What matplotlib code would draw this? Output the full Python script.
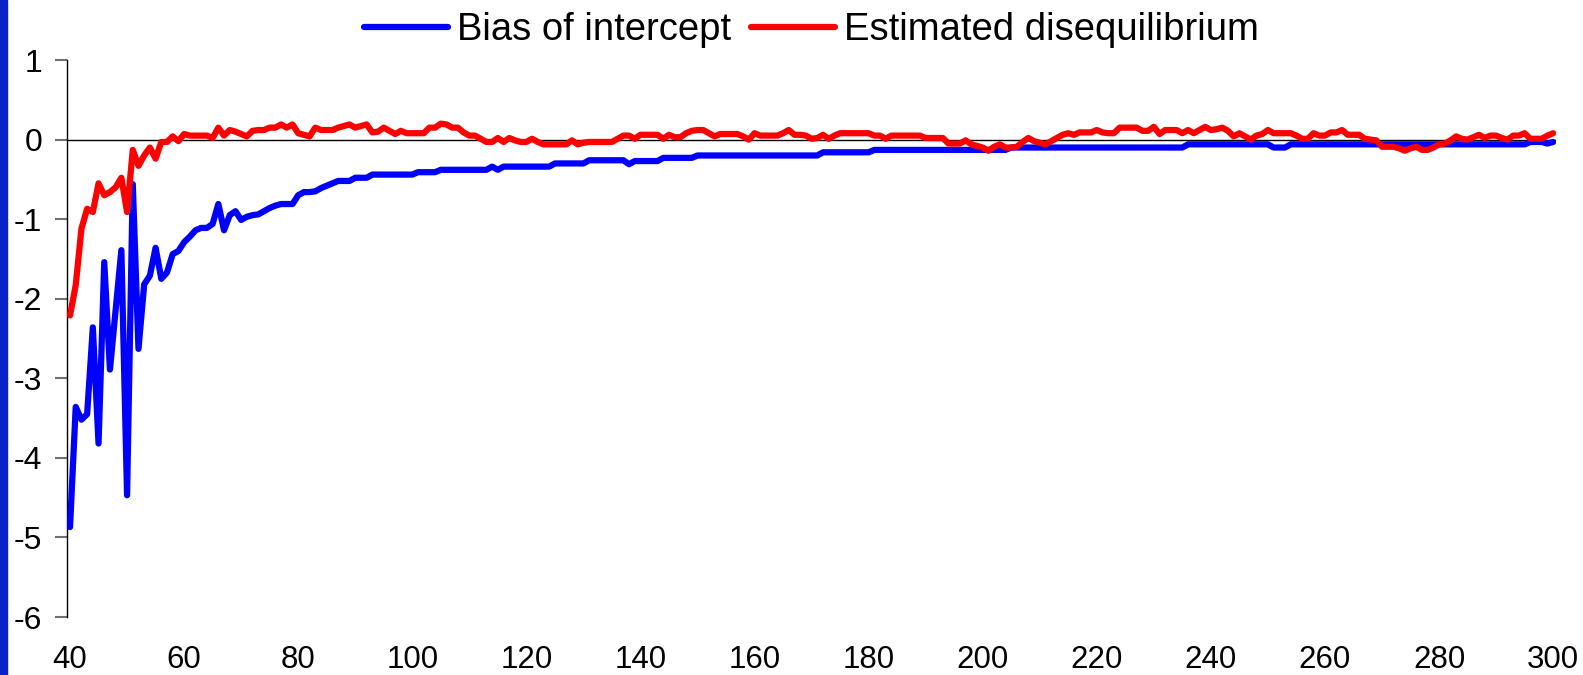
import numpy as np
import matplotlib
matplotlib.use("Agg")
from matplotlib import pyplot as plt
from matplotlib.patches import Rectangle

plt.rcParams['font.family'] = ['Liberation Sans', 'DejaVu Sans']
plt.rcParams['axes.unicode_minus'] = False

# sample sizes 40..300
sample_size = list(range(40, 301))

bias_intercept = [
    -4.87, -3.36, -3.52, -3.45, -2.36, -3.82, -1.54, -2.89, -2.14, -1.39,
    -4.47, -0.56, -2.63, -1.82, -1.71, -1.36, -1.75, -1.67, -1.44, -1.40,
    -1.29, -1.22, -1.14, -1.11, -1.11, -1.06, -0.81, -1.14, -0.95, -0.90,
    -1.01, -0.97, -0.95, -0.94, -0.90, -0.86, -0.83, -0.81, -0.81, -0.81,
    -0.70, -0.66, -0.66, -0.65, -0.61, -0.58, -0.55, -0.52, -0.52, -0.52,
    -0.48, -0.48, -0.48, -0.44, -0.44, -0.44, -0.44, -0.44, -0.44, -0.44,
    -0.44, -0.41, -0.41, -0.41, -0.41, -0.38, -0.38, -0.38, -0.38, -0.38,
    -0.38, -0.38, -0.38, -0.38, -0.34, -0.38, -0.34, -0.34, -0.34, -0.34,
    -0.34, -0.34, -0.34, -0.34, -0.34, -0.30, -0.30, -0.30, -0.30, -0.30,
    -0.30, -0.26, -0.26, -0.26, -0.26, -0.26, -0.26, -0.26, -0.31, -0.27,
    -0.27, -0.27, -0.27, -0.27, -0.23, -0.23, -0.23, -0.23, -0.23, -0.23,
    -0.20, -0.20, -0.20, -0.20, -0.20, -0.20, -0.20, -0.20, -0.20, -0.20,
    -0.20, -0.20, -0.20, -0.20, -0.20, -0.20, -0.20, -0.20, -0.20, -0.20,
    -0.20, -0.20, -0.16, -0.16, -0.16, -0.16, -0.16, -0.16, -0.16, -0.16,
    -0.16, -0.13, -0.13, -0.13, -0.13, -0.13, -0.13, -0.13, -0.13, -0.13,
    -0.13, -0.13, -0.13, -0.13, -0.13, -0.13, -0.13, -0.13, -0.13, -0.13,
    -0.13, -0.13, -0.13, -0.13, -0.13, -0.10, -0.10, -0.10, -0.10, -0.10,
    -0.10, -0.10, -0.10, -0.10, -0.10, -0.10, -0.10, -0.10, -0.10, -0.10,
    -0.10, -0.10, -0.10, -0.10, -0.10, -0.10, -0.10, -0.10, -0.10, -0.10,
    -0.10, -0.10, -0.10, -0.10, -0.10, -0.10, -0.06, -0.06, -0.06, -0.06,
    -0.06, -0.06, -0.06, -0.06, -0.06, -0.06, -0.06, -0.06, -0.06, -0.06,
    -0.06, -0.10, -0.10, -0.10, -0.06, -0.06, -0.06, -0.06, -0.06, -0.06,
    -0.06, -0.06, -0.06, -0.06, -0.06, -0.06, -0.06, -0.06, -0.06, -0.06,
    -0.06, -0.06, -0.06, -0.06, -0.06, -0.06, -0.06, -0.06, -0.06, -0.06,
    -0.06, -0.06, -0.06, -0.06, -0.06, -0.06, -0.06, -0.06, -0.06, -0.06,
    -0.06, -0.06, -0.06, -0.06, -0.06, -0.06, -0.03, -0.03, -0.03, -0.05,
    -0.03,
]

est_diseq = [
    -2.21, -1.83, -1.12, -0.87, -0.91, -0.55, -0.70, -0.66, -0.60, -0.48,
    -0.91, -0.13, -0.33, -0.20, -0.10, -0.24, -0.03, -0.03, 0.04, -0.02,
    0.07, 0.05, 0.05, 0.05, 0.05, 0.02, 0.15, 0.05, 0.12, 0.10,
    0.07, 0.04, 0.11, 0.12, 0.12, 0.15, 0.15, 0.19, 0.15, 0.19,
    0.08, 0.06, 0.04, 0.15, 0.12, 0.12, 0.12, 0.15, 0.17, 0.19,
    0.15, 0.17, 0.19, 0.09, 0.10, 0.15, 0.11, 0.07, 0.11, 0.08,
    0.08, 0.08, 0.08, 0.15, 0.15, 0.20, 0.19, 0.15, 0.15, 0.09,
    0.05, 0.05, 0.01, -0.03, -0.03, 0.02, -0.03, 0.02, -0.01, -0.03,
    -0.03, 0.01, -0.03, -0.06, -0.06, -0.06, -0.06, -0.06, -0.01, -0.06,
    -0.04, -0.03, -0.03, -0.03, -0.03, -0.03, 0.01, 0.05, 0.05, 0.01,
    0.06, 0.06, 0.06, 0.06, 0.01, 0.06, 0.03, 0.03, 0.08, 0.11,
    0.12, 0.12, 0.08, 0.04, 0.07, 0.07, 0.07, 0.07, 0.04, 0.00,
    0.08, 0.05, 0.05, 0.05, 0.05, 0.08, 0.12, 0.06, 0.06, 0.05,
    0.01, 0.02, 0.06, 0.01, 0.05, 0.08, 0.08, 0.08, 0.08, 0.08,
    0.08, 0.05, 0.05, 0.01, 0.05, 0.05, 0.05, 0.05, 0.05, 0.05,
    0.02, 0.02, 0.02, 0.02, -0.05, -0.05, -0.05, -0.01, -0.06, -0.08,
    -0.10, -0.14, -0.09, -0.06, -0.10, -0.10, -0.09, -0.03, 0.02, -0.02,
    -0.04, -0.06, -0.02, 0.02, 0.06, 0.08, 0.06, 0.09, 0.09, 0.09,
    0.12, 0.09, 0.08, 0.08, 0.15, 0.15, 0.15, 0.15, 0.11, 0.11,
    0.16, 0.07, 0.12, 0.12, 0.12, 0.08, 0.12, 0.08, 0.12, 0.16,
    0.12, 0.13, 0.15, 0.11, 0.04, 0.08, 0.04, 0.00, 0.05, 0.07,
    0.12, 0.08, 0.08, 0.08, 0.08, 0.05, 0.01, 0.01, 0.08, 0.05,
    0.05, 0.09, 0.09, 0.12, 0.06, 0.06, 0.06, 0.01, 0.00, -0.01,
    -0.09, -0.09, -0.09, -0.11, -0.14, -0.11, -0.09, -0.13, -0.13, -0.10,
    -0.06, -0.05, -0.01, 0.04, 0.01, 0.00, 0.03, 0.06, 0.02, 0.05,
    0.05, 0.02, 0.00, 0.05, 0.05, 0.08, 0.01, 0.01, 0.01, 0.05,
    0.08,
]

x_ticks = list(range(40, 301, 20))
y_ticks = list(range(-6, 2))

W, H = 1583, 675
fig = plt.figure(figsize=(W / 100, H / 100), dpi=100)
fig.patch.set_facecolor('white')

# blue strip on the left edge
fig.patches.append(Rectangle((0, 0), 7 / W, 1, transform=fig.transFigure,
                             color='#0a22c6', zorder=0))

left, right = 67 / W, 1556 / W
bottom, top = (H - 617) / H, (H - 60) / H
ax = fig.add_axes([left, bottom, right - left, top - bottom])

ax.axhline(0, color='black', lw=1, zorder=1)
ax.plot(sample_size, bias_intercept, color='#0000ff', lw=4.5,
        solid_joinstyle='round', solid_capstyle='round', zorder=3,
        label='Bias of intercept')
ax.plot(sample_size, est_diseq, color='#ff0000', lw=4.5,
        solid_joinstyle='round', solid_capstyle='round', zorder=4,
        label='Estimated disequilibrium')

ax.set_xlim(39.47, 300.5)
ax.set_ylim(-6, 1)
ax.set_xticks(x_ticks)
ax.set_yticks(y_ticks)

for s in ['top', 'right', 'bottom']:
    ax.spines[s].set_visible(False)
ax.spines['left'].set_linewidth(1)
ax.spines['left'].set_color('black')

ax.tick_params(axis='y', length=9, width=1.5, color='#707070', pad=9,
               labelsize=23, direction='out')
ax.tick_params(axis='x', length=0, pad=20, labelsize=22.5)

fig.legend(loc='center', bbox_to_anchor=((left + right) / 2, 0.955),
           ncol=2, frameon=False, fontsize=27.5, handlelength=2.2,
           handletextpad=0.25, columnspacing=0.5)

fig.savefig('out.png', dpi=100)
